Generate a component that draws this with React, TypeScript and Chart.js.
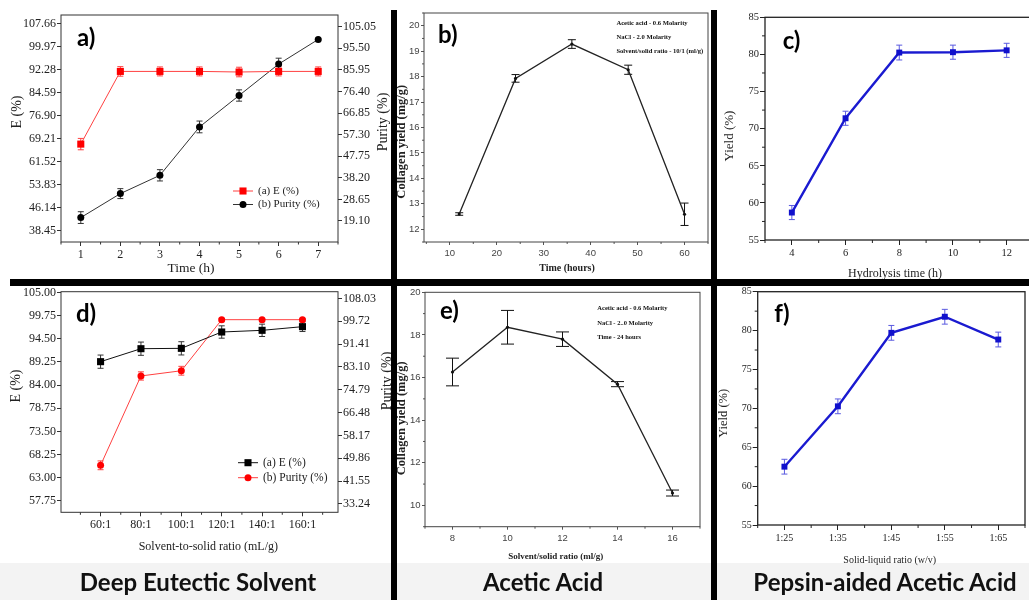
import React, { useEffect, useRef } from "react";
import { Chart, registerables } from "chart.js";

Chart.register(...registerables);

const SERIF = '"Liberation Serif", "Times New Roman", serif';
const SANS = '"Liberation Sans", Arial, sans-serif';
const HEAD = 'Lato, "Open Sans", sans-serif';

// ---------------- a) Deep eutectic solvent vs time ----------------
const aTime = [1, 2, 3, 4, 5, 6, 7];
const aE = [67.5, 91.8, 91.8, 91.8, 91.6, 91.8, 91.8];
const aEErr = [1.9, 1.6, 1.5, 1.5, 1.6, 1.5, 1.5];
const aPurity = [20.6, 31.2, 39.3, 60.7, 74.6, 88.5, 99.4];
const aPurityErr = [2.6, 2.2, 2.5, 2.6, 2.5, 2.6, 0.4];
const aETicks = [38.45, 46.14, 53.83, 61.52, 69.21, 76.9, 84.59, 92.28, 99.97, 107.66];
const aPurityTicks = [19.1, 28.65, 38.2, 47.75, 57.3, 66.85, 76.4, 85.95, 95.5, 105.05];
const aSeries = ["(a) E (%)", "(b) Purity (%)"];

// ---------------- b) Acetic acid vs time ----------------
const bTime = [12, 24, 36, 48, 60];
const bYield = [12.6, 17.93, 19.28, 18.27, 12.59];
const bYieldErr = [0.05, 0.15, 0.17, 0.18, 0.44];
const bXTicks = [10, 20, 30, 40, 50, 60];
const bYTicks = [12, 13, 14, 15, 16, 17, 18, 19, 20];
const bNotes = ["Acetic acid - 0.6 Molarity", "NaCl - 2.0 Molarity", "Solvent/solid ratio - 10/1 (ml/g)"];

// ---------------- c) Pepsin-aided vs hydrolysis time ----------------
const cTime = [4, 6, 8, 10, 12];
const cYield = [58.7, 71.4, 80.25, 80.3, 80.55];
const cYieldErr = [0.95, 0.95, 1.0, 0.95, 0.95];
const cXTicks = [4, 6, 8, 10, 12];
const cYTicks = [55, 60, 65, 70, 75, 80, 85];

// ---------------- d) Deep eutectic solvent vs ratio ----------------
const dRatio = [60, 80, 100, 120, 140, 160];
const dRatioLabels = ["60:1", "80:1", "100:1", "120:1", "140:1", "160:1"];
const dE = [89.3, 92.24, 92.32, 96.02, 96.4, 97.23];
const dEErr = [1.5, 1.5, 1.5, 1.4, 1.4, 1.1];
const dPurity = [47.3, 79.8, 81.7, 100.27, 100.27, 100.27];
const dPurityErr = [1.6, 1.5, 1.6, 0.5, 0.5, 0.5];
const dETicks = [57.75, 63.0, 68.25, 73.5, 78.75, 84.0, 89.25, 94.5, 99.75, 105.0];
const dPurityTicks = [33.24, 41.55, 49.86, 58.17, 66.48, 74.79, 83.1, 91.41, 99.72, 108.03];
const dSeries = ["(a) E (%)", "(b) Purity (%)"];

// ---------------- e) Acetic acid vs ratio ----------------
const eRatio = [8, 10, 12, 14, 16];
const eYield = [16.26, 18.36, 17.8, 15.69, 10.58];
const eYieldErr = [0.65, 0.79, 0.34, 0.12, 0.14];
const eXTicks = [8, 10, 12, 14, 16];
const eYTicks = [10, 12, 14, 16, 18, 20];
const eNotes = ["Acetic acid - 0.6 Molarity", "NaCl - 2..0 Molarity", "Time - 24 hours"];

// ---------------- f) Pepsin-aided vs ratio ----------------
const fRatio = [25, 35, 45, 55, 65];
const fRatioLabels = ["1:25", "1:35", "1:45", "1:55", "1:65"];
const fYield = [62.5, 70.26, 79.71, 81.78, 78.85];
const fYieldErr = [0.95, 0.95, 0.95, 0.95, 0.95];
const fYTicks = [55, 60, 65, 70, 75, 80, 85];

const panelNames = ["Deep Eutectic Solvent", "Acetic Acid", "Pepsin-aided Acetic Acid"];

// ---------------- helpers ----------------
const two = (v: number) => Number(v).toFixed(2);
const fnt = (family: string, size: number, weight: string = "normal") => ({ family, size, weight });

function pts(xs: number[], ys: number[]) {
  return xs.map((x, i) => ({ x, y: ys[i] }));
}

function axis(p: any) {
  const horiz = p.position === "bottom";
  return {
    type: "linear",
    position: p.position,
    min: p.min,
    max: p.max,
    afterBuildTicks: (s: any) => {
      s.ticks = p.ticks.map((v: number) => ({ value: v }));
    },
    afterFit: (s: any) => {
      if (horiz) s.height = p.size;
      else s.width = p.size;
    },
    grid: {
      display: true,
      drawOnChartArea: false,
      drawTicks: true,
      tickLength: p.tickLen,
      tickWidth: 1,
      tickColor: p.lineColor,
      color: p.lineColor,
    },
    border: { display: false },
    ticks: {
      autoSkip: false,
      maxRotation: 0,
      minRotation: 0,
      padding: p.pad,
      color: p.color,
      font: p.font,
      callback: (v: any) => (p.fmt ? p.fmt(Number(v)) : String(v)),
    },
    title: { display: false },
  };
}

function series(label: string, xs: number[], ys: number[], errs: number[], st: any) {
  return {
    label,
    data: pts(xs, ys),
    xAxisID: "x",
    yAxisID: st.yAxisID || "y",
    borderColor: st.line,
    borderWidth: st.lw,
    tension: 0,
    pointStyle: st.shape,
    pointRadius: st.r,
    pointBackgroundColor: st.fill,
    pointBorderColor: st.fill,
    pointBorderWidth: 0,
    clip: false,
    errorBars: errs,
    errorColor: st.err,
    capWidth: st.cap,
    errorWidth: st.ew,
  };
}

function drawMinor(chart: any, ctx: CanvasRenderingContext2D, id: string, len: number, color: string) {
  const s = chart.scales[id];
  if (!s) return;
  const vals = s.ticks.map((t: any) => t.value);
  if (vals.length < 2) return;
  const step = vals[1] - vals[0];
  ctx.save();
  ctx.strokeStyle = color;
  ctx.lineWidth = 1;
  ctx.beginPath();
  for (let k = -1; k < vals.length; k++) {
    const v = vals[0] + step * (k + 0.5);
    if (v < s.min - 1e-9 || v > s.max + 1e-9) continue;
    const p = s.getPixelForValue(v);
    if (s.isHorizontal()) {
      ctx.moveTo(p, s.top);
      ctx.lineTo(p, s.top + len);
    } else if (s.position === "left") {
      ctx.moveTo(s.right, p);
      ctx.lineTo(s.right - len, p);
    } else {
      ctx.moveTo(s.left, p);
      ctx.lineTo(s.left + len, p);
    }
  }
  ctx.stroke();
  ctx.restore();
}

const decor = {
  id: "decor",
  beforeDatasetsDraw(chart: any) {
    const ctx = chart.ctx;
    chart.data.datasets.forEach((ds: any, i: number) => {
      const err = ds.errorBars;
      if (!err) return;
      const meta = chart.getDatasetMeta(i);
      const ys = chart.scales[meta.yAxisID];
      ctx.save();
      ctx.strokeStyle = ds.errorColor;
      ctx.lineWidth = ds.errorWidth || 1;
      meta.data.forEach((pt: any, j: number) => {
        const v = ds.data[j].y;
        const e = err[j];
        const y1 = ys.getPixelForValue(v + e);
        const y2 = ys.getPixelForValue(v - e);
        const c = ds.capWidth / 2;
        ctx.beginPath();
        ctx.moveTo(pt.x, y1);
        ctx.lineTo(pt.x, y2);
        ctx.moveTo(pt.x - c, y1);
        ctx.lineTo(pt.x + c, y1);
        ctx.moveTo(pt.x - c, y2);
        ctx.lineTo(pt.x + c, y2);
        ctx.stroke();
      });
      ctx.restore();
    });
  },
  afterDraw(chart: any, _args: any, o: any) {
    const ctx = chart.ctx as CanvasRenderingContext2D;
    const ca = chart.chartArea;
    ctx.save();
    (o.minor || []).forEach((m: any) => drawMinor(chart, ctx, m.id, m.len, o.tickColor));
    ctx.strokeStyle = o.frameColor;
    ctx.lineWidth = o.frameWidth;
    ctx.strokeRect(ca.left, ca.top, ca.right - ca.left, ca.bottom - ca.top);

    (o.titles || []).forEach((t: any) => {
      ctx.save();
      ctx.translate(t.x, t.y);
      if (t.rot) ctx.rotate(-Math.PI / 2);
      ctx.font = t.font;
      ctx.fillStyle = t.color;
      ctx.textAlign = "center";
      ctx.textBaseline = "middle";
      ctx.fillText(t.text, 0, 0);
      ctx.restore();
    });

    if (o.label) {
      ctx.font = o.label.font;
      ctx.fillStyle = "#000";
      ctx.textAlign = "left";
      ctx.textBaseline = "middle";
      ctx.fillText(o.label.text, ca.left + o.label.dx, ca.top + o.label.dy);
    }

    if (o.legend) {
      const L = o.legend;
      chart.data.datasets.forEach((ds: any, k: number) => {
        const y = ca.top + L.dy + k * L.gap;
        const x0 = ca.left + L.dx;
        ctx.strokeStyle = ds.borderColor;
        ctx.lineWidth = 1;
        ctx.beginPath();
        ctx.moveTo(x0, y);
        ctx.lineTo(x0 + L.len, y);
        ctx.stroke();
        const cx = x0 + L.len / 2;
        ctx.fillStyle = ds.pointBackgroundColor;
        if (ds.pointStyle === "rect") {
          const s = ds.pointRadius * Math.SQRT2;
          ctx.fillRect(cx - s / 2, y - s / 2, s, s);
        } else {
          ctx.beginPath();
          ctx.arc(cx, y, ds.pointRadius, 0, Math.PI * 2);
          ctx.fill();
        }
        ctx.fillStyle = L.textColor;
        ctx.font = L.font;
        ctx.textAlign = "left";
        ctx.textBaseline = "middle";
        ctx.fillText(ds.label, x0 + L.len + L.textGap, y);
      });
    }

    if (o.notes) {
      const N = o.notes;
      ctx.font = N.font;
      ctx.fillStyle = "#111";
      ctx.textAlign = "left";
      ctx.textBaseline = "middle";
      N.lines.forEach((line: string, k: number) => {
        ctx.fillText(line, ca.left + N.dx, ca.top + N.dy + k * N.gap);
      });
    }
    ctx.restore();
  },
};

function makeConfig(spec: any) {
  return {
    type: "line",
    data: { datasets: spec.datasets },
    options: {
      animation: false,
      responsive: false,
      maintainAspectRatio: false,
      events: [],
      layout: { padding: spec.padding, autoPadding: false },
      scales: spec.scales,
      plugins: {
        legend: { display: false },
        tooltip: { enabled: false },
        decor: spec.decor,
      },
    },
    plugins: [decor],
  };
}

// ---------------- panel specs ----------------
const originTick = { color: "#222", lineColor: "#333" };

const panelA = {
  box: { x: 0, y: 0, w: 391, h: 279 },
  padding: { left: 0, top: 15, right: 0, bottom: 0 },
  datasets: [
    series(aSeries[0], aTime, aE, aEErr, { line: "#ff4040", lw: 1, shape: "rect", r: 5, fill: "#ff0000", err: "#ff4040", cap: 6, ew: 1 }),
    series(aSeries[1], aTime, aPurity, aPurityErr, { yAxisID: "y2", line: "#333", lw: 1, shape: "circle", r: 3.5, fill: "#000", err: "#333", cap: 6, ew: 1 }),
  ],
  scales: {
    x: axis({ position: "bottom", min: 0.5, max: 7.5, ticks: aTime, size: 37, tickLen: 4, pad: 1.5, font: fnt(SERIF, 12), ...originTick }),
    y: axis({ position: "left", min: 34.77, max: 110.66, ticks: aETicks, fmt: two, size: 61, tickLen: 4, pad: 1, font: fnt(SERIF, 12), ...originTick }),
    y2: axis({ position: "right", min: 9.8, max: 110.21, ticks: aPurityTicks, fmt: two, size: 53, tickLen: 4, pad: 1, font: fnt(SERIF, 12), ...originTick }),
  },
  decor: {
    frameColor: "#333",
    frameWidth: 1,
    tickColor: "#333",
    minor: [{ id: "x", len: 2.5 }],
    titles: [
      { text: "E (%)", x: 17, y: 112, rot: true, font: `14px ${SERIF}`, color: "#222" },
      { text: "Purity (%)", x: 383, y: 122, rot: true, font: `14px ${SERIF}`, color: "#222" },
      { text: "Time (h)", x: 191, y: 268.5, rot: false, font: `13.5px ${SERIF}`, color: "#222" },
    ],
    label: { text: "a)", dx: 16, dy: 23, font: `bold 24px ${HEAD}` },
    legend: { dx: 172, dy: 176, gap: 13.5, len: 20, textGap: 5, font: `11px ${SERIF}`, textColor: "#222" },
  },
};

const panelB = {
  box: { x: 391, y: 0, w: 320, h: 279 },
  padding: { left: 0, top: 13, right: 3, bottom: 0 },
  datasets: [
    series("Collagen yield", bTime, bYield, bYieldErr, { line: "#222", lw: 1.3, shape: "circle", r: 1.6, fill: "#111", err: "#111", cap: 8, ew: 1 }),
  ],
  scales: {
    x: axis({ position: "bottom", min: 4.5, max: 65, ticks: bXTicks, size: 37, tickLen: 3, pad: 3, font: fnt(SANS, 9.5), color: "#444", lineColor: "#555" }),
    y: axis({ position: "left", min: 11.5, max: 20.5, ticks: bYTicks, size: 33, tickLen: 3, pad: 1.5, font: fnt(SANS, 9.5), color: "#444", lineColor: "#555" }),
  },
  decor: {
    frameColor: "#444",
    frameWidth: 1,
    tickColor: "#555",
    minor: [{ id: "x", len: 2 }, { id: "y", len: 2 }],
    titles: [
      { text: "Collagen yield (mg/g)", x: 10.7, y: 141.7, rot: true, font: `bold 12.5px ${SERIF}`, color: "#222" },
      { text: "Time (hours)", x: 176, y: 268.3, rot: false, font: `bold 10px ${SERIF}`, color: "#222" },
    ],
    label: { text: "b)", dx: 14, dy: 22, font: `bold 24px ${HEAD}` },
    notes: { lines: bNotes, dx: 192.4, dy: 10, gap: 14.3, font: `bold 6.6px ${SERIF}` },
  },
};

const panelC = {
  box: { x: 711, y: 0, w: 329, h: 285 },
  padding: { left: 0, top: 17.3, right: 6.5, bottom: 0 },
  datasets: [
    series("Yield", cTime, cYield, cYieldErr, { line: "#1a1ad0", lw: 2.4, shape: "rect", r: 4.2, fill: "#1010cc", err: "#5a5ae0", cap: 6, ew: 1 }),
  ],
  scales: {
    x: axis({ position: "bottom", min: 3, max: 13, ticks: cXTicks, size: 45, tickLen: 5, pad: 2, font: fnt(SERIF, 10.5), color: "#222", lineColor: "#222" }),
    y: axis({ position: "left", min: 55, max: 85, ticks: cYTicks, size: 54, tickLen: 5, pad: 1, font: fnt(SERIF, 10.5), color: "#222", lineColor: "#222" }),
  },
  decor: {
    frameColor: "#222",
    frameWidth: 1.3,
    tickColor: "#222",
    minor: [{ id: "x", len: 3 }, { id: "y", len: 3 }],
    titles: [
      { text: "Yield (%)", x: 19, y: 136, rot: true, font: `13px ${SERIF}`, color: "#222" },
      { text: "Hydrolysis time (h)", x: 184, y: 273.5, rot: false, font: `12px ${SERIF}`, color: "#222" },
    ],
    label: { text: "c)", dx: 17.7, dy: 24, font: `bold 24px ${HEAD}` },
  },
};

const panelD = {
  box: { x: 0, y: 280, w: 391, h: 280 },
  padding: { left: 0, top: 11.7, right: 0, bottom: 0 },
  datasets: [
    series(dSeries[0], dRatio, dE, dEErr, { line: "#111", lw: 1, shape: "rect", r: 5, fill: "#000", err: "#333", cap: 6, ew: 1 }),
    series(dSeries[1], dRatio, dPurity, dPurityErr, { yAxisID: "y2", line: "#ff4040", lw: 1, shape: "circle", r: 3.5, fill: "#ff0000", err: "#ff4040", cap: 6, ew: 1 }),
  ],
  scales: {
    x: axis({
      position: "bottom", min: 40.4, max: 177.6, ticks: dRatio, size: 47.7, tickLen: 4, pad: 1,
      fmt: (v: number) => dRatioLabels[dRatio.indexOf(v)] ?? "", font: fnt(SERIF, 12), ...originTick,
    }),
    y: axis({ position: "left", min: 55.18, max: 105.15, ticks: dETicks, fmt: two, size: 61, tickLen: 4, pad: 1, font: fnt(SERIF, 12), ...originTick }),
    y2: axis({ position: "right", min: 30.21, max: 110.45, ticks: dPurityTicks, fmt: two, size: 53, tickLen: 4, pad: 1, font: fnt(SERIF, 12), ...originTick }),
  },
  decor: {
    frameColor: "#333",
    frameWidth: 1,
    tickColor: "#333",
    minor: [{ id: "x", len: 2.5 }],
    titles: [
      { text: "E (%)", x: 16.7, y: 106, rot: true, font: `14px ${SERIF}`, color: "#222" },
      { text: "Purity (%)", x: 387, y: 101, rot: true, font: `14px ${SERIF}`, color: "#222" },
      { text: "Solvent-to-solid ratio (mL/g)", x: 208.3, y: 267, rot: false, font: `12px ${SERIF}`, color: "#222" },
    ],
    label: { text: "d)", dx: 15, dy: 23, font: `bold 24px ${HEAD}` },
    legend: { dx: 177, dy: 171, gap: 15, len: 20, textGap: 5, font: `11.5px ${SERIF}`, textColor: "#222" },
  },
};

const panelE = {
  box: { x: 391, y: 280, w: 320, h: 285 },
  padding: { left: 0, top: 12.3, right: 11, bottom: 0 },
  datasets: [
    series("Collagen yield", eRatio, eYield, eYieldErr, { line: "#222", lw: 1.3, shape: "circle", r: 1.6, fill: "#111", err: "#111", cap: 13, ew: 1 }),
  ],
  scales: {
    x: axis({ position: "bottom", min: 7, max: 17, ticks: eXTicks, size: 38.3, tickLen: 3, pad: 3, font: fnt(SANS, 9.5), color: "#444", lineColor: "#555" }),
    y: axis({ position: "left", min: 9, max: 20, ticks: eYTicks, size: 34, tickLen: 3, pad: 1.5, font: fnt(SANS, 9.5), color: "#444", lineColor: "#555" }),
  },
  decor: {
    frameColor: "#444",
    frameWidth: 1,
    tickColor: "#555",
    minor: [{ id: "x", len: 2 }, { id: "y", len: 2 }],
    titles: [
      { text: "Collagen yield (mg/g)", x: 10.7, y: 138.3, rot: true, font: `bold 12.5px ${SERIF}`, color: "#222" },
      { text: "Solvent/solid ratio (ml/g)", x: 164.7, y: 277, rot: false, font: `bold 9px ${SERIF}`, color: "#222" },
    ],
    label: { text: "e)", dx: 15, dy: 19, font: `bold 24px ${HEAD}` },
    notes: { lines: eNotes, dx: 172.3, dy: 16, gap: 14.7, font: `bold 6.5px ${SERIF}` },
  },
};

const panelF = {
  box: { x: 711, y: 280, w: 318, h: 290 },
  padding: { left: 0, top: 11.7, right: 4, bottom: 0 },
  datasets: [
    series("Yield", fRatio, fYield, fYieldErr, { line: "#1a1ad0", lw: 2.4, shape: "rect", r: 4.2, fill: "#1010cc", err: "#5a5ae0", cap: 6, ew: 1 }),
  ],
  scales: {
    x: axis({
      position: "bottom", min: 20, max: 70, ticks: fRatio, size: 45, tickLen: 5, pad: 2,
      fmt: (v: number) => fRatioLabels[fRatio.indexOf(v)] ?? "", font: fnt(SERIF, 10), color: "#222", lineColor: "#222",
    }),
    y: axis({ position: "left", min: 55, max: 85, ticks: fYTicks, size: 46.7, tickLen: 5, pad: 1, font: fnt(SERIF, 10), color: "#222", lineColor: "#222" }),
  },
  decor: {
    frameColor: "#222",
    frameWidth: 1.3,
    tickColor: "#222",
    minor: [{ id: "x", len: 3 }, { id: "y", len: 3 }],
    titles: [
      { text: "Yield (%)", x: 12.3, y: 133.3, rot: true, font: `12.5px ${SERIF}`, color: "#222" },
      { text: "Solid-liquid ratio (w/v)", x: 178.7, y: 280.7, rot: false, font: `10px ${SERIF}`, color: "#222" },
    ],
    label: { text: "f)", dx: 16.6, dy: 23, font: `bold 24px ${HEAD}` },
  },
};

const panels = [panelA, panelB, panelC, panelD, panelE, panelF];

function Panel({ spec }: { spec: any }) {
  const ref = useRef<HTMLCanvasElement | null>(null);
  useEffect(() => {
    if (!ref.current) return;
    const chart = new Chart(ref.current, makeConfig(spec) as any);
    return () => chart.destroy();
  }, [spec]);
  return (
    <canvas
      ref={ref}
      width={spec.box.w}
      height={spec.box.h}
      style={{ position: "absolute", left: spec.box.x, top: spec.box.y, width: spec.box.w, height: spec.box.h }}
    />
  );
}

const bar = (left: number, top: number, width: number, height: number) => (
  <div style={{ position: "absolute", left, top, width, height, background: "#000", zIndex: 5 }} />
);

export default function App() {
  const labelStyle = (cx: number): React.CSSProperties => ({
    position: "absolute",
    left: cx - 200,
    width: 400,
    top: 568,
    textAlign: "center",
    fontFamily: HEAD,
    fontWeight: 700,
    fontSize: 24,
    lineHeight: "28px",
    color: "#111",
    zIndex: 6,
    whiteSpace: "nowrap",
  });
  return (
    <div style={{ position: "absolute", left: 0, top: 0, width: 1029, height: 600, overflow: "hidden", background: "#fff" }}>
      <div style={{ position: "absolute", left: 0, top: 563, width: 1029, height: 37, background: "#f3f3f3" }} />
      {panels.map((p, i) => (
        <Panel key={i} spec={p} />
      ))}
      {bar(10, 279, 1019, 7)}
      {bar(391, 10, 6, 590)}
      {bar(711, 10, 6, 590)}
      <div style={labelStyle(198)}>{panelNames[0]}</div>
      <div style={labelStyle(543)}>{panelNames[1]}</div>
      <div style={labelStyle(885)}>{panelNames[2]}</div>
    </div>
  );
}
